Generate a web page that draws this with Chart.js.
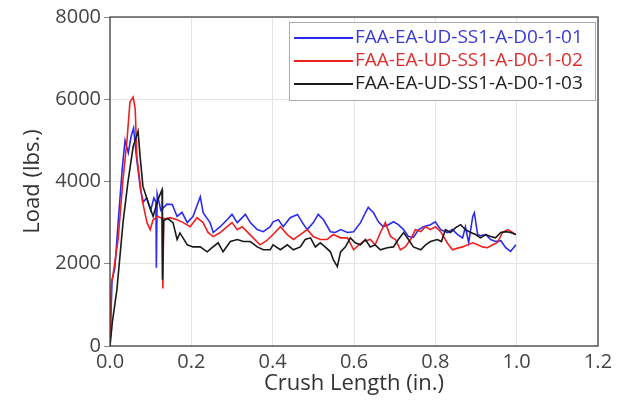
<!DOCTYPE html>
<html>
<head>
<meta charset="utf-8">
<script src="https://cdn.jsdelivr.net/npm/chart.js@4"></script>
<style>
  html, body { margin: 0; padding: 0; background: #fff; }
  #wrap { width: 627px; height: 403px; }
</style>
</head>
<body>
<div id="wrap"><canvas id="crushChart"></canvas></div>
<script>
// series names
var seriesNames = ["FAA-EA-UD-SS1-A-D0-1-01", "FAA-EA-UD-SS1-A-D0-1-02", "FAA-EA-UD-SS1-A-D0-1-03"];

// -01 (blue)
var blueX = [0, 0.005, 0.012, 0.02, 0.03, 0.037, 0.045, 0.052, 0.058, 0.065, 0.075, 0.082, 0.09, 0.1, 0.108, 0.113, 0.114, 0.116, 0.125, 0.14,
  0.153, 0.165, 0.177, 0.19, 0.204, 0.222, 0.229, 0.246, 0.254, 0.271, 0.288, 0.3, 0.313, 0.333, 0.345, 0.362, 0.377, 0.394,
  0.401, 0.414, 0.426, 0.443, 0.461, 0.473, 0.485, 0.5, 0.512, 0.525, 0.542, 0.554, 0.567, 0.584, 0.599,
  0.616, 0.628, 0.635, 0.648, 0.66, 0.672, 0.685, 0.697, 0.709, 0.722, 0.734, 0.746, 0.759, 0.771, 0.788, 0.8,
  0.813, 0.83, 0.842, 0.855, 0.867, 0.874, 0.882, 0.892, 0.896, 0.904, 0.911, 0.924, 0.936, 0.948, 0.961, 0.973, 0.985, 0.998];
var blueLoad = [0, 1600, 1900, 3000, 4300, 5000, 4700, 5100, 5300, 4600, 3800, 3500, 3600, 3300, 3600, 3500, 1900, 3700, 3300, 3450,
  3440, 3150, 3250, 3000, 3150, 3630, 3240, 3000, 2760, 2900, 3070, 3200, 3000, 3200, 3000, 2830, 2780, 2900,
  3020, 3070, 2900, 3120, 3200, 3000, 2830, 3000, 3200, 3070, 2780, 2760, 2830, 2760, 2780,
  3000, 3240, 3370, 3240, 3020, 2900, 2950, 3020, 2950, 2830, 2660, 2640, 2830, 2900, 2950, 3020,
  2830, 2760, 2830, 2710, 2630, 2900, 2510, 3150, 3240, 2710, 2680, 2710, 2590, 2540, 2560, 2390, 2300, 2460];

// -02 (red)
var redX = [0, 0.003, 0.007, 0.02, 0.032, 0.042, 0.049, 0.057, 0.062, 0.066, 0.079, 0.091, 0.099, 0.106, 0.118, 0.128, 0.13, 0.132, 0.14,
  0.148, 0.165, 0.18, 0.197, 0.214, 0.229, 0.241, 0.254, 0.271, 0.288, 0.3, 0.313, 0.325, 0.337, 0.352, 0.369, 0.385,
  0.401, 0.419, 0.436, 0.451, 0.468, 0.485, 0.5, 0.517, 0.534, 0.549, 0.567, 0.584, 0.599, 0.611, 0.623, 0.64, 0.652,
  0.665, 0.677, 0.69, 0.702, 0.714, 0.726, 0.739, 0.751, 0.764, 0.776, 0.788, 0.8, 0.813, 0.83, 0.842, 0.855, 0.867,
  0.88, 0.892, 0.904, 0.916, 0.928, 0.941, 0.953, 0.965, 0.978, 0.99, 0.998];
var redLoad = [0, 1500, 1700, 2590, 4050, 5020, 5930, 6050, 5760, 4610, 3560, 3000, 2830, 3070, 3150, 3100, 1400, 3100, 3100,
  3120, 3070, 3000, 2900, 3120, 3000, 2760, 2660, 2760, 2900, 3000, 2830, 2900, 2780, 2630, 2460, 2560,
  2710, 2900, 2710, 2590, 2710, 2830, 2660, 2590, 2590, 2710, 2630, 2630, 2340, 2450, 2540, 2590, 2460,
  2760, 3000, 2660, 2590, 2340, 2410, 2590, 2830, 2780, 2900, 2830, 2900, 2780, 2500, 2340, 2380, 2410,
  2460, 2510, 2460, 2410, 2390, 2460, 2520, 2760, 2830, 2760, 2700];

// -03 (black)
var blackX = [0, 0.006, 0.017, 0.032, 0.044, 0.057, 0.069, 0.074, 0.081, 0.094, 0.106, 0.118, 0.128, 0.129, 0.132, 0.142,
  0.155, 0.165, 0.172, 0.19, 0.204, 0.222, 0.239, 0.251, 0.266, 0.278, 0.296, 0.313, 0.328, 0.345, 0.362, 0.377, 0.394,
  0.401, 0.419, 0.436, 0.451, 0.468, 0.48, 0.493, 0.505, 0.517, 0.529, 0.542, 0.549, 0.559, 0.567, 0.579, 0.591, 0.603,
  0.616, 0.628, 0.64, 0.652, 0.665, 0.682, 0.697, 0.709, 0.722, 0.734, 0.746, 0.764, 0.776, 0.788, 0.805, 0.815,
  0.825, 0.837, 0.85, 0.862, 0.874, 0.887, 0.899, 0.911, 0.924, 0.936, 0.948, 0.961, 0.973, 0.985, 0.998];
var blackLoad = [0, 600, 1370, 3000, 3980, 4850, 5220, 4610, 3880, 3490, 3150, 3560, 3800, 1610, 3050, 3100,
  3000, 2590, 2750, 2460, 2410, 2410, 2290, 2390, 2510, 2290, 2540, 2590, 2540, 2540, 2410, 2340, 2340,
  2460, 2340, 2460, 2340, 2410, 2590, 2630, 2410, 2510, 2410, 2290, 2100, 1930, 2290, 2410, 2630, 2510,
  2460, 2590, 2410, 2460, 2340, 2390, 2410, 2590, 2760, 2590, 2410, 2340, 2460, 2540, 2590, 2540,
  2830, 2760, 2880, 2950, 2830, 2760, 2710, 2630, 2710, 2660, 2630, 2760, 2780, 2760, 2710];

var xTicks = [0, 0.2, 0.4, 0.6, 0.8, 1.0, 1.2];
var yTicks = [0, 2000, 4000, 6000, 8000];

function toPoints(xs, ys) {
  return xs.map(function(x, i) { return { x: x, y: ys[i] }; });
}

// frame round the plot and the boxed legend in the top right corner
var framePlugin = {
  id: "framePlugin",
  afterDraw: function(chart) {
    var ctx = chart.ctx, a = chart.chartArea;
    ctx.save();
    ctx.strokeStyle = "#333";
    ctx.lineWidth = 1.2;
    ctx.strokeRect(a.left, a.top, a.right - a.left, a.bottom - a.top);

    var w = 306, h = 78;
    var x0 = a.right - w - 3, y0 = a.top + 5;
    ctx.fillStyle = "#fff";
    ctx.fillRect(x0, y0, w, h);
    ctx.strokeStyle = "#aaa";
    ctx.lineWidth = 1;
    ctx.strokeRect(x0 + 0.5, y0 + 0.5, w, h);

    ctx.font = "19px 'Open Sans'";
    ctx.textBaseline = "middle";
    chart.data.datasets.forEach(function(ds, i) {
      var y = y0 + 16 + i * 23;
      ctx.strokeStyle = ds.borderColor;
      ctx.lineWidth = 2;
      ctx.beginPath();
      ctx.moveTo(x0 + 5, y);
      ctx.lineTo(x0 + 64, y);
      ctx.stroke();
      ctx.fillStyle = ds.textColor;
      ctx.fillText(ds.label, x0 + 66, y);
    });
    ctx.restore();
  }
};

new Chart("crushChart", {
  type: "scatter",
  data: {
    datasets: [{
      label: seriesNames[0],
      data: toPoints(blueX, blueLoad),
      borderColor: "#2b2bf0",
      textColor: "#3a3ad8",
      order: 3
    }, {
      label: seriesNames[1],
      data: toPoints(redX, redLoad),
      borderColor: "#f02020",
      textColor: "#e02c2c",
      order: 2
    }, {
      label: seriesNames[2],
      data: toPoints(blackX, blackLoad),
      borderColor: "#1a1a1a",
      textColor: "#222",
      order: 1
    }]
  },
  options: {
    responsive: true,
    maintainAspectRatio: false,
    animation: false,
    showLine: true,
    elements: {
      point: { radius: 0 },
      line: { borderWidth: 1.6, tension: 0 }
    },
    layout: { padding: { top: 17, right: 29, left: 0, bottom: 0 } },
    plugins: {
      legend: { display: false },
      tooltip: { enabled: false }
    },
    scales: {
      x: {
        type: "linear",
        min: 0,
        max: 1.2,
        afterBuildTicks: function(s) { s.ticks = xTicks.map(function(v) { return { value: v }; }); },
        afterFit: function(s) { s.height = 57; },
        grid: { color: "#e4e4e4", drawTicks: false },
        border: { display: false },
        ticks: {
          padding: 4,
          color: "#444",
          font: { family: "'Open Sans'", size: 20 },
          callback: function(v) { return v.toFixed(1); }
        },
        title: {
          display: true,
          text: "Crush Length (in.)",
          color: "#333",
          font: { family: "'Open Sans'", size: 22 },
          padding: { top: 0, bottom: 6 }
        }
      },
      y: {
        min: 0,
        max: 8000,
        afterBuildTicks: function(s) { s.ticks = yTicks.map(function(v) { return { value: v }; }); },
        afterFit: function(s) { s.width = 110; },
        grid: { color: "#e4e4e4", tickLength: 6, tickColor: "#888" },
        border: { display: false },
        ticks: {
          padding: 3,
          color: "#444",
          font: { family: "'Open Sans'", size: 20 },
          callback: function(v) { return String(v); }
        },
        title: {
          display: true,
          text: "Load (lbs.)",
          color: "#333",
          font: { family: "'Open Sans'", size: 22 },
          padding: { top: 20, bottom: 0 }
        }
      }
    }
  },
  plugins: [framePlugin]
});
</script>
</body>
</html>
